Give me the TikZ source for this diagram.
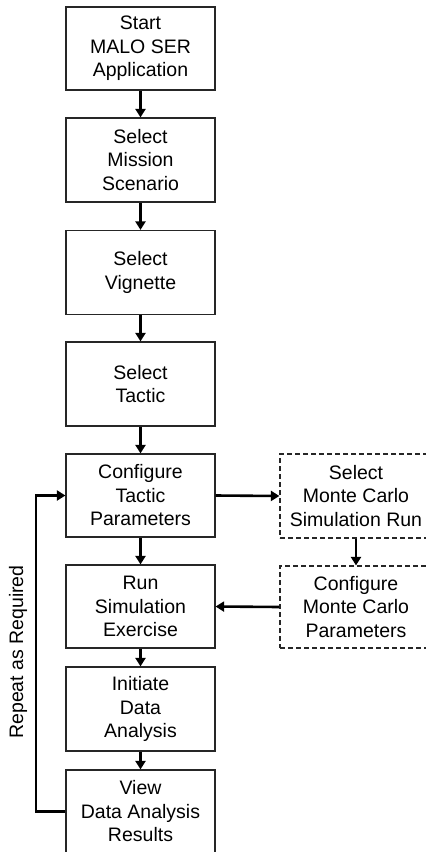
\documentclass[tikz,border=0pt]{standalone}
\usepackage{fontspec}
\setmainfont{Liberation Sans}
\usetikzlibrary{arrows.meta}
\begin{document}
\begin{tikzpicture}[x=1pt,y=-1pt,
  stepbox/.style={draw=black!85, line width=1.2pt, minimum width=149pt,
    minimum height=84pt, align=center, inner sep=0pt,
    font=\fontsize{19.5}{23.5}\selectfont},
  optbox/.style={stepbox, dashed, dash pattern=on 5pt off 3pt, minimum width=152pt},
  arr/.style={line width=2.6pt, -{Triangle[length=8.5pt,width=10pt]}},
  lbl/.style={font=\fontsize{19.5}{23.5}\selectfont}]
\useasboundingbox (0,0) rectangle (426,852);
% main sequence
\node[stepbox, minimum height=83pt] (b1) at (140.5,48.5) {Start\\MALO SER\\Application};
\node[stepbox] (b2) at (140.5,160) {Select\\Mission\\Scenario};
\node[stepbox] (b3) at (140.5,272.5) {Select\\Vignette};
\node[stepbox] (b4) at (140.5,384) {Select\\Tactic};
\node[stepbox, minimum height=83pt] (b5) at (140.5,495.5) {Configure\\Tactic\\Parameters};
\node[stepbox, minimum height=83pt] (b6) at (140.5,606.5) {Run\\Simulation\\Exercise};
\node[stepbox] (b7) at (140.5,709) {Initiate\\Data\\Analysis};
\node[stepbox, minimum height=83pt] (b8) at (140.5,811.5) {View\\Data Analysis\\Results};
% optional Monte Carlo steps
\node[optbox] (r1) at (356,496) {Select\\Monte Carlo\\Simulation Run};
\node[optbox, minimum height=82pt] (r2) at (356,607) {Configure\\Monte Carlo\\Parameters};
% connectors
\draw[arr] (b1) -- (b2);
\draw[arr] (b2) -- (b3);
\draw[arr] (b3) -- (b4);
\draw[arr] (b4) -- (b5);
\draw[arr] (b5) -- (b6);
\draw[arr] (b6) -- (b7);
\draw[arr] (b7) -- (b8);
\draw[arr] (b5.east) -- (r1.west);
\draw[arr] (r1) -- (r2);
\draw[arr] (r2.west) -- (b6.east);
% repeat loop
\coordinate (lx) at (36,0);
\draw[arr] (b8.west) -- (b8.west -| lx) |- (b5.west);
\node[lbl, rotate=90] (rep) at (18,652) {Repeat as Required};
\end{tikzpicture}
\end{document}
